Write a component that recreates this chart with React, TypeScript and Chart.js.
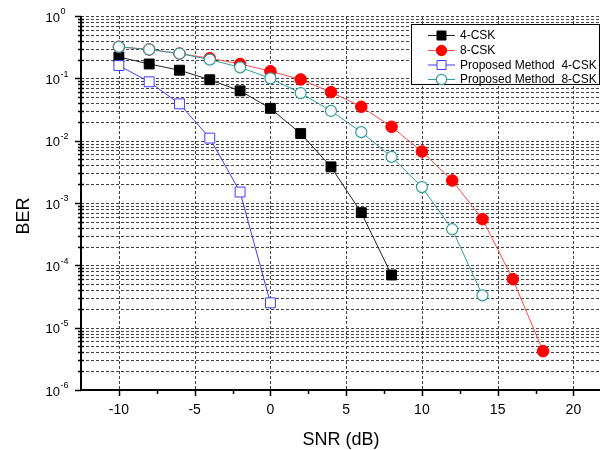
import React, { useEffect, useRef } from "react";
import { Chart, registerables } from "chart.js";

Chart.register(...registerables);

const SNR_4CSK = [-10, -8, -6, -4, -2, 0, 2, 4, 6, 8];
const BER_4CSK = [0.22, 0.17, 0.135, 0.095, 0.063, 0.033, 0.013, 0.0038, 0.0007, 0.00007];

const SNR_8CSK = [-10, -8, -6, -4, -2, 0, 2, 4, 6, 8, 10, 12, 14, 16, 18];
const BER_8CSK = [0.32, 0.29, 0.25, 0.21, 0.17, 0.13, 0.096, 0.06, 0.035, 0.0167, 0.0067, 0.0023, 0.00055, 0.00006, 0.0000042];

const SNR_P4 = [-10, -8, -6, -4, -2, 0];
const BER_P4 = [0.16, 0.088, 0.039, 0.011, 0.0015, 0.000025];

const SNR_P8 = [-10, -8, -6, -4, -2, 0, 2, 4, 6, 8, 10, 12, 14];
const BER_P8 = [0.32, 0.29, 0.25, 0.2, 0.15, 0.1, 0.058, 0.03, 0.0137, 0.0055, 0.0018, 0.00038, 0.000033];

const LABELS = ["4-CSK", "8-CSK", "Proposed Method  4-CSK", "Proposed Method  8-CSK"];

const X_MAJOR = [-10, -5, 0, 5, 10, 15, 20];
const X_MINOR = [-12.5, -7.5, -2.5, 2.5, 7.5, 12.5, 17.5];
const Y_EXPONENTS = [-6, -5, -4, -3, -2, -1, 0];
const Y_MULT = [1, 2, 3, 4, 5, 6, 7, 8, 9];

const X_TITLE = "SNR (dB)";
const Y_TITLE = "BER";

const FONT = "'Liberation Sans', Arial, sans-serif";

const toPts = (xs: number[], ys: number[]) => xs.map((x, i) => ({ x, y: ys[i] }));

const yTickValues: number[] = [];
Y_EXPONENTS.forEach((e) => {
  if (e === 0) {
    yTickValues.push(1);
  } else {
    Y_MULT.forEach((m) => yTickValues.push(m * Math.pow(10, e)));
  }
});

const RIGHT_EDGE = 600;

const gridPlugin = {
  id: "gridPlugin",
  beforeDatasetsDraw(chart: any) {
    const { ctx, chartArea: a, scales } = chart;
    const xs = scales.x;
    const ys = scales.y;
    ctx.save();
    ctx.strokeStyle = "#444444";
    ctx.lineWidth = 1;
    ctx.setLineDash([3, 2]);
    yTickValues.forEach((v) => {
      const py = Math.round(ys.getPixelForValue(v)) + 0.5;
      if (py < a.top - 1 || py > a.bottom - 2) return;
      ctx.beginPath();
      ctx.moveTo(a.left, py);
      ctx.lineTo(RIGHT_EDGE, py);
      ctx.stroke();
    });
    X_MAJOR.forEach((v) => {
      const px = Math.round(xs.getPixelForValue(v)) + 0.5;
      ctx.beginPath();
      ctx.moveTo(px, a.top);
      ctx.lineTo(px, a.bottom);
      ctx.stroke();
    });
    ctx.restore();
  },
};

const decorPlugin = {
  id: "decorPlugin",
  afterDraw(chart: any) {
    const { ctx, chartArea: a, scales } = chart;
    const xs = scales.x;
    const ys = scales.y;
    ctx.save();
    ctx.setLineDash([]);
    ctx.strokeStyle = "#000";
    ctx.fillStyle = "#000";

    // axis lines
    ctx.lineWidth = 2;
    ctx.beginPath();
    ctx.moveTo(a.left, a.top);
    ctx.lineTo(a.left, a.bottom);
    ctx.lineTo(RIGHT_EDGE, a.bottom);
    ctx.stroke();

    // y ticks
    ctx.lineWidth = 1.5;
    yTickValues.forEach((v) => {
      const py = Math.round(ys.getPixelForValue(v)) + 0.5;
      const lg = Math.log10(v);
      const major = Math.abs(lg - Math.round(lg)) < 1e-9;
      ctx.beginPath();
      if (major) {
        ctx.moveTo(a.left - 6, py);
        ctx.lineTo(a.left, py);
      } else {
        ctx.moveTo(a.left - 3, py);
        ctx.lineTo(a.left + 3, py);
      }
      ctx.stroke();
    });
    // y labels
    Y_EXPONENTS.forEach((e) => {
      const py = ys.getPixelForValue(Math.pow(10, e));
      ctx.font = `13px ${FONT}`;
      ctx.textAlign = "right";
      ctx.textBaseline = "middle";
      ctx.fillText("10", 60, py + 2);
      ctx.font = `9px ${FONT}`;
      ctx.textAlign = "left";
      ctx.fillText(String(e), 60.5, py - 4);
    });

    // x ticks
    ctx.lineWidth = 1.5;
    X_MAJOR.forEach((v) => {
      const px = Math.round(xs.getPixelForValue(v)) + 0.5;
      ctx.beginPath();
      ctx.moveTo(px, a.bottom);
      ctx.lineTo(px, a.bottom + 6);
      ctx.stroke();
    });
    X_MINOR.forEach((v) => {
      const px = Math.round(xs.getPixelForValue(v)) + 0.5;
      if (px < a.left + 2) return;
      ctx.beginPath();
      ctx.moveTo(px, a.bottom);
      ctx.lineTo(px, a.bottom + 4);
      ctx.stroke();
    });
    ctx.font = `14px ${FONT}`;
    ctx.textAlign = "center";
    ctx.textBaseline = "middle";
    X_MAJOR.forEach((v) => {
      ctx.fillText(String(v), xs.getPixelForValue(v), 410);
    });

    // titles
    ctx.font = `18px ${FONT}`;
    ctx.fillText(X_TITLE, 341, 440);
    ctx.save();
    ctx.translate(24, 216);
    ctx.rotate(-Math.PI / 2);
    ctx.fillText(Y_TITLE, 0, 0);
    ctx.restore();

    // legend
    const lx = 411.5, ly = 24.5, lw = 188, lh = 60;
    ctx.fillStyle = "#fff";
    ctx.fillRect(lx, ly, lw, lh);
    ctx.strokeStyle = "#000";
    ctx.lineWidth = 1;
    ctx.strokeRect(lx, ly, lw, lh);
    const rowsY = [35.5, 50.5, 65, 79.5];
    chart.data.datasets.forEach((ds: any, i: number) => {
      const cy = rowsY[i];
      ctx.strokeStyle = ds.borderColor;
      ctx.lineWidth = 1;
      ctx.beginPath();
      ctx.moveTo(428, cy);
      ctx.lineTo(455, cy);
      ctx.stroke();
      const cx = 441.5;
      ctx.fillStyle = ds.pointBackgroundColor;
      ctx.strokeStyle = ds.pointBorderColor;
      ctx.lineWidth = ds.pointBorderWidth;
      ctx.beginPath();
      if (ds.pointStyle === "rect") {
        ctx.rect(cx - 4.5, cy - 4.5, 9, 9);
      } else {
        ctx.arc(cx, cy, 5.2, 0, Math.PI * 2);
      }
      ctx.fill();
      ctx.stroke();
      ctx.fillStyle = "#000";
      ctx.font = `12px ${FONT}`;
      ctx.textAlign = "left";
      ctx.textBaseline = "middle";
      ctx.fillText(ds.label, 460, cy + 0.5);
    });

    ctx.restore();
  },
};

export default function App() {
  const ref = useRef<HTMLCanvasElement | null>(null);

  useEffect(() => {
    if (!ref.current) return;
    const chart = new Chart(ref.current, {
      type: "line",
      data: {
        datasets: [
          {
            label: LABELS[0],
            data: toPts(SNR_4CSK, BER_4CSK),
            borderColor: "#222222",
            borderWidth: 1,
            pointStyle: "rect",
            pointRadius: 7,
            pointBackgroundColor: "#000000",
            pointBorderColor: "#000000",
            pointBorderWidth: 1,
            order: 4,
          },
          {
            label: LABELS[1],
            data: toPts(SNR_8CSK, BER_8CSK),
            borderColor: "#ff4a4a",
            borderWidth: 1,
            pointStyle: "circle",
            pointRadius: 5.8,
            pointBackgroundColor: "#ff0000",
            pointBorderColor: "#ff0000",
            pointBorderWidth: 1,
            order: 3,
          },
          {
            label: LABELS[2],
            data: toPts(SNR_P4, BER_P4),
            borderColor: "#3d3dff",
            borderWidth: 1,
            pointStyle: "rect",
            pointRadius: 7,
            pointBackgroundColor: "#ffffff",
            pointBorderColor: "#3d3dff",
            pointBorderWidth: 1,
            order: 2,
          },
          {
            label: LABELS[3],
            data: toPts(SNR_P8, BER_P8),
            borderColor: "#339c9c",
            borderWidth: 1,
            pointStyle: "circle",
            pointRadius: 5.5,
            pointBackgroundColor: "#ffffff",
            pointBorderColor: "#339c9c",
            pointBorderWidth: 1.2,
            order: 1,
          },
        ],
      },
      options: {
        responsive: false,
        animation: false,
        devicePixelRatio: 1,
        clip: false,
        layout: { padding: { top: 16, right: 2, left: 0, bottom: 0 } },
        plugins: {
          legend: { display: false },
          tooltip: { enabled: false },
        },
        scales: {
          x: {
            type: "linear",
            min: -12.5,
            max: 21.36,
            grid: { display: false },
            border: { display: false },
            ticks: { display: false },
            afterFit: (s: any) => {
              s.height = 60;
            },
          },
          y: {
            type: "logarithmic",
            min: 1e-6,
            max: 1,
            grid: { display: false },
            border: { display: false },
            ticks: { display: false },
            afterFit: (s: any) => {
              s.width = 81;
            },
          },
        },
      } as any,
      plugins: [gridPlugin, decorPlugin],
    });
    return () => chart.destroy();
  }, []);

  return (
    <canvas
      ref={ref}
      width={602}
      height={450}
      style={{ position: "fixed", left: 0, top: 0, width: 602, height: 450, display: "block" }}
    />
  );
}
